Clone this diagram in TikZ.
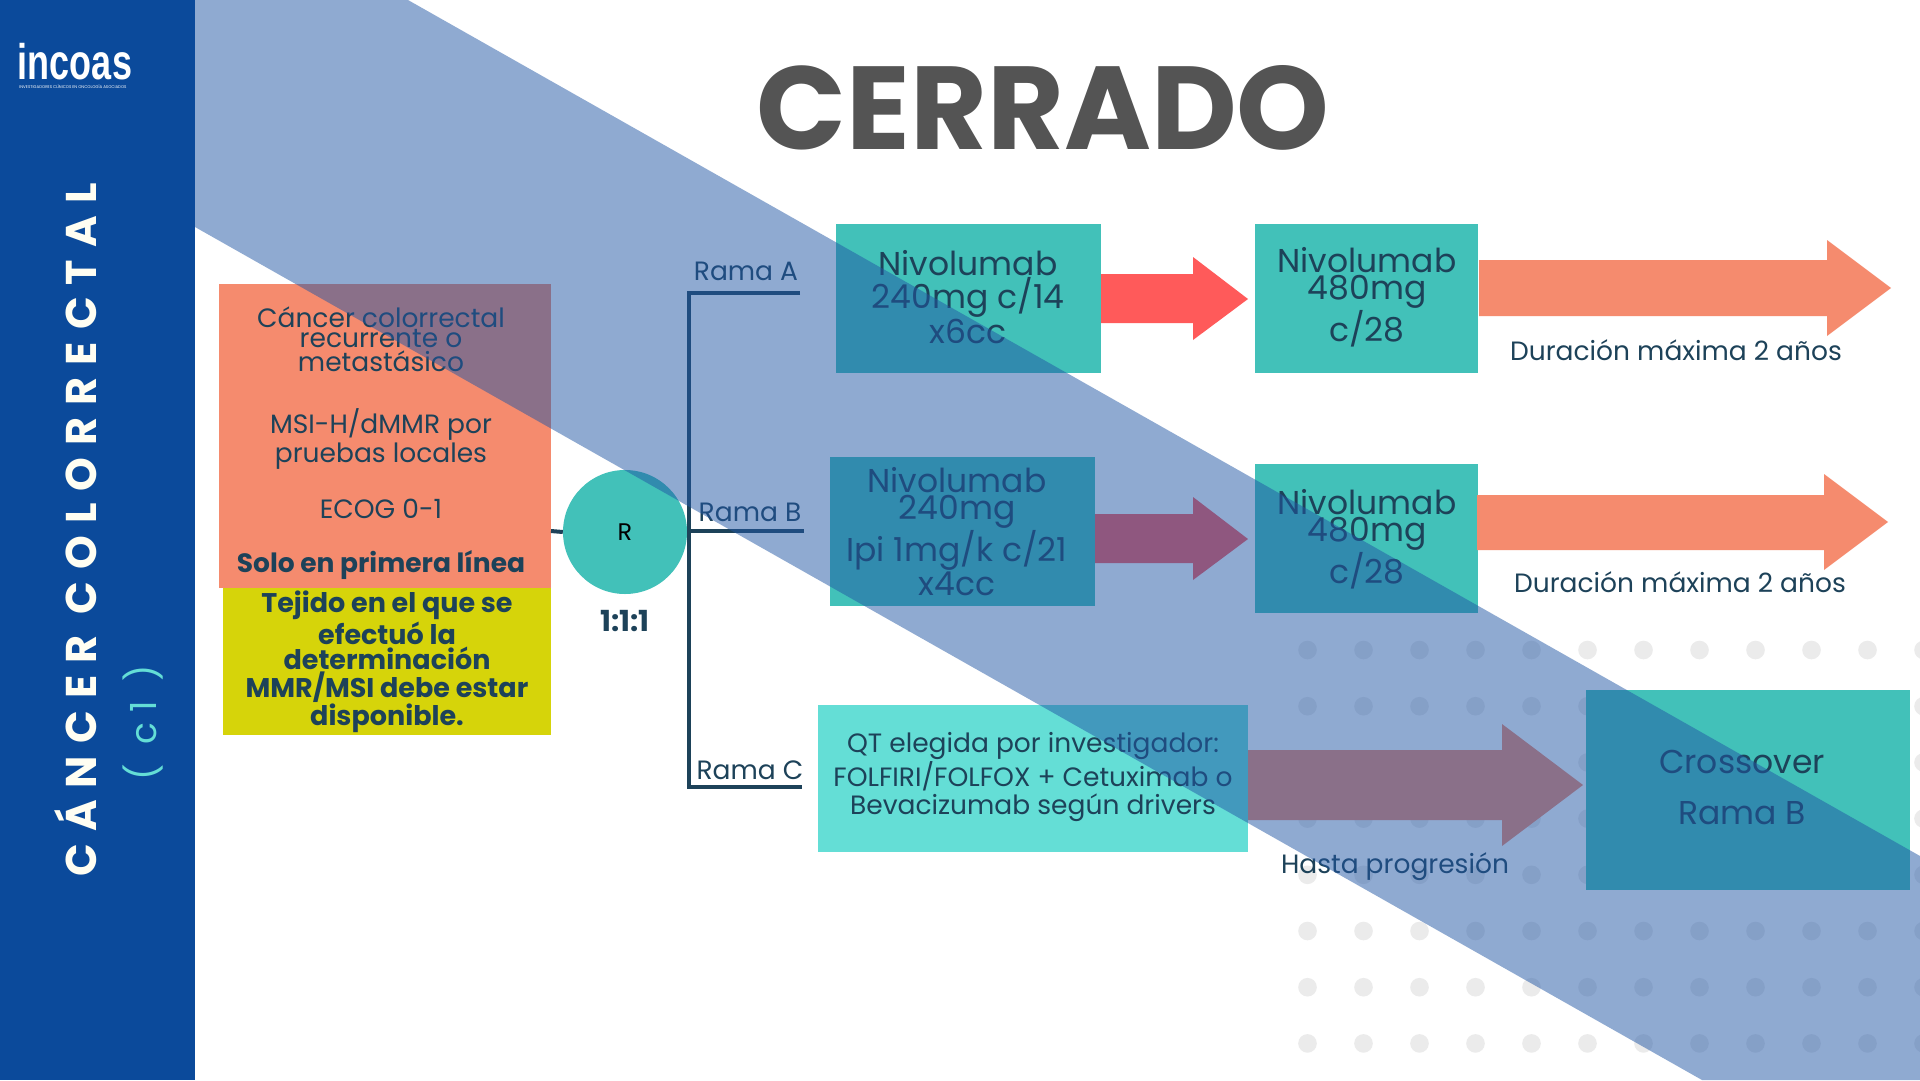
\documentclass[tikz,border=0pt]{standalone}
\usepackage{fontspec}
\setmainfont{Poppins}
\newfontfamily\titlefont[LetterSpace=0]{Poppins}
\newfontfamily\sidefont[LetterSpace=28]{Poppins}
\newfontfamily\logofont{Liberation Sans}
\definecolor{sidebar}{HTML}{0B4A9B}
\definecolor{bandblue}{HTML}{2156A5}
\definecolor{salmon}{HTML}{F58B6E}
\definecolor{coral}{HTML}{FF5A5A}
\definecolor{teal}{HTML}{42C1B9}
\definecolor{lightteal}{HTML}{64DED6}
\definecolor{lime}{HTML}{D6D40A}
\definecolor{inkblue}{HTML}{1D4259}
\definecolor{dotgrey}{HTML}{EBEBEB}
\tikzset{
  txt/.style={text=inkblue, align=center, inner sep=0pt},
  box/.style={fill=teal, inner sep=0pt},
  bigarrow/.style={fill=salmon},
  branch/.style={draw=inkblue, line width=4pt},
}
\newcommand{\fs}[1]{\fontsize{#1}{#1}\selectfont}
\begin{document}
\begin{tikzpicture}[x=1pt, y=-1pt]
\useasboundingbox (0,0) rectangle (1920,1080);
\fill[white] (0,0) rectangle (1920,1080);

% Dot grid
\foreach \i in {0,...,11}
  \foreach \j in {0,...,7}
    \fill[dotgrey] (1307.5+56*\i,650+56.2*\j) circle (9.3);

% Coloured boxes
\fill[salmon] (219,284) rectangle (551,588);
\fill[lime] (222.5,588) rectangle (551,735);
\fill[teal] (836,224) rectangle (1101,373);
\fill[teal] (1255,224) rectangle (1478,373);
\fill[teal] (830,457) rectangle (1095,606);
\fill[teal] (1255,464) rectangle (1478,613);
\fill[lightteal] (818,705) rectangle (1248,852);
\fill[teal] (1585.5,690) rectangle (1909.5,890);

% Arrows
\fill[coral] (1101,274) -- (1193,274) -- (1193,257) -- (1248,299) -- (1193,340) -- (1193,323) -- (1101,323) -- cycle;
\fill[salmon] (1479,260) -- (1827,260) -- (1827,240) -- (1891,288) -- (1827,336) -- (1827,316) -- (1479,316) -- cycle;
\fill[coral] (1095,514) -- (1193,514) -- (1193,497) -- (1248,539) -- (1193,580) -- (1193,563) -- (1095,563) -- cycle;
\fill[salmon] (1477,495) -- (1824,495) -- (1824,474) -- (1888,522) -- (1824,570) -- (1824,550) -- (1477,550) -- cycle;
\fill[salmon] (1248,750) -- (1502,750) -- (1502,724) -- (1583,785) -- (1502,846) -- (1502,820) -- (1248,820) -- cycle;

% Randomisation and branches
\node[circle, fill=teal, minimum size=124pt, inner sep=0pt] (rand) at (625,532) {};
\node[text=black, inner sep=0pt] (randlabel) at (625,532) {\fs{24}R};
\coordinate (crit) at (551,531);
\coordinate (trunktop) at (689,293);
\coordinate (trunkmid) at (689,531);
\coordinate (trunkbot) at (689,787);
\coordinate (ramaAend) at (800,293);
\coordinate (ramaBend) at (804,531);
\coordinate (ramaCend) at (802,787);
\draw[branch] (crit) -- (rand.west);
\draw[branch] (ramaAend) -- (trunktop) -- (trunkbot) -- (ramaCend);
\draw[branch] (trunkmid) -- (ramaBend);

% Labels
\node[txt] (critA) at (381,339) {\fs{26.5}Cáncer colorrectal\\[1.5pt]\fs{26.5}recurrente o\\[1.5pt]\fs{26.5}metastásico};
\node[txt] (critB) at (381,439) {\fs{26.5}MSI-H/dMMR por\\[1.5pt]\fs{26.5}pruebas locales};
\node[txt] (critC) at (381,509) {\fs{26.5}ECOG 0-1};
\node[txt] (critD) at (381,565) {\fs{26.5}\bfseries Solo en primera línea};
\node[txt, font=\bfseries] (tissue) at (387,662) {\fs{27}Tejido en el que se\\[1pt]\fs{27}efectuó la\\[1pt]\fs{27}determinación\\[1pt]\fs{27}MMR/MSI debe estar\\[1pt]\fs{27}disponible.};
\node[txt, font=\bfseries] (ratio) at (625,621) {\fs{29}1:1:1};
\node[txt] (ramaA) at (746,271) {\fs{26.5}Rama A};
\node[txt] (ramaB) at (750,512) {\fs{26.5}Rama B};
\node[txt] (ramaC) at (750,770) {\fs{26.5}Rama C};
\node[txt] (nivoA) at (968,297) {\fs{33}Nivolumab\\[1pt]\fs{33}240mg c/14\\[1pt]\fs{33}x6cc};
\node[txt] (nivoAm) at (1367,297) {\fs{33}Nivolumab\\[1pt]\fs{33}480mg\\[1pt]\fs{33}c/28};
\node[txt] (nivoB) at (957,532) {\fs{33}Nivolumab\\[1pt]\fs{33}240mg\\[1pt]\fs{33}Ipi 1mg/k c/21\\[1pt]\fs{33}x4cc};
\node[txt] (nivoBm) at (1367,539) {\fs{33}Nivolumab\\[1pt]\fs{33}480mg\\[1pt]\fs{33}c/28};
\node[txt] (durA) at (1676,350) {\fs{26.5}Duración máxima 2 años};
\node[txt] (durB) at (1680,582) {\fs{26.5}Duración máxima 2 años};
\node[txt] (qt) at (1033,777) {\fs{26.5}QT elegida por investigador:\\[1pt]\fs{26.5}FOLFIRI/FOLFOX + Cetuximab o\\[1pt]\fs{26.5}Bevacizumab según drivers};
\node[txt] (until) at (1395,867) {\fs{26.5}Hasta progresión};
\node[txt] (cross) at (1742,762) {\fs{33}Crossover};
\node[txt] (crossb) at (1742,813) {\fs{33}Rama B};

% Diagonal band
\fill[bandblue, opacity=.5] (195,0) -- (408,0) -- (1920,856) -- (1920,1080) -- (1702,1080) -- (195,227) -- cycle;

% Side bar
\fill[sidebar] (0,0) rectangle (195,1080);
\node[rotate=90, text=white!95!yellow, inner sep=0pt, font=\sidefont\bfseries] (side) at (76,530) {\fs{43}CÁNCER COLORRECTAL};
\node[rotate=90, text=lightteal, inner sep=0pt, font=\sidefont] (sidecode) at (143,723) {\fs{36}( c1 )};

% Logo
\node[text=white, inner sep=0pt, xscale=.72, font=\logofont\bfseries] (logo) at (75,62) {\fs{50}incoas};
\node[text=white, inner sep=0pt, font=\rmfamily] (logosub) at (73,87) {\fontsize{4}{4}\selectfont INVESTIGADORES CLÍNICOS EN ONCOLOGÍA ASOCIADOS};

% Title
\node[text=black!67, inner sep=0pt, font=\titlefont\bfseries] (title) at (1043,108) {\fs{118}CERRADO};
\end{tikzpicture}
\end{document}
